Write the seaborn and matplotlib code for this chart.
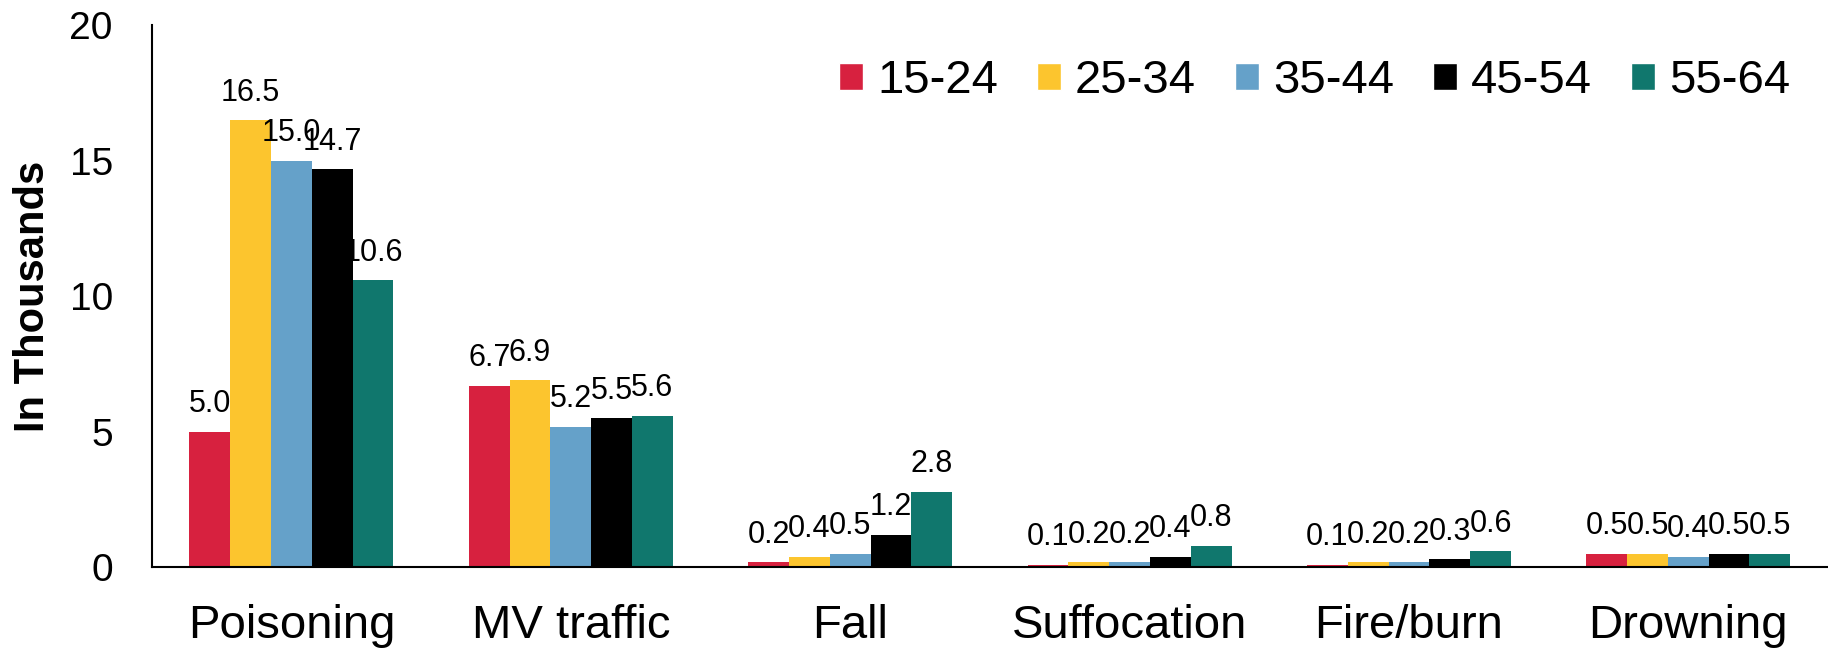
import matplotlib
matplotlib.use("Agg")
import matplotlib.pyplot as plt
import seaborn as sns
import pandas as pd
from matplotlib.patches import Patch

categories = ["Poisoning", "MV traffic", "Fall", "Suffocation", "Fire/burn", "Drowning"]
age_groups = ["15-24", "25-34", "35-44", "45-54", "55-64"]
ages_15_24 = [5.0, 6.7, 0.2, 0.1, 0.1, 0.5]
ages_25_34 = [16.5, 6.9, 0.4, 0.2, 0.2, 0.5]
ages_35_44 = [15.0, 5.2, 0.5, 0.2, 0.2, 0.4]
ages_45_54 = [14.7, 5.5, 1.2, 0.4, 0.3, 0.5]
ages_55_64 = [10.6, 5.6, 2.8, 0.8, 0.6, 0.5]
y_ticks = [0, 5, 10, 15, 20]
colors = ["#D7213F", "#FCC52E", "#65A1C9", "#000000", "#10776D"]

series = [ages_15_24, ages_25_34, ages_35_44, ages_45_54, ages_55_64]
rows = []
for age, vals in zip(age_groups, series):
    for cat, v in zip(categories, vals):
        rows.append({"Cause": cat, "Age": age, "Value": v})
df = pd.DataFrame(rows)

sns.set_theme(style="white")
plt.rcParams["font.family"] = ["Liberation Sans", "DejaVu Sans"]
plt.rcParams["text.color"] = "black"
plt.rcParams["axes.labelcolor"] = "black"
plt.rcParams["xtick.color"] = "black"
plt.rcParams["ytick.color"] = "black"

fig = plt.figure(figsize=(18.28, 6.5), dpi=100)
ax = fig.add_axes([0.083, 0.127, 0.917, 0.834])

sns.barplot(data=df, x="Cause", y="Value", hue="Age", order=categories,
            hue_order=age_groups, palette=colors, width=0.73, saturation=1,
            errorbar=None, ax=ax, legend=False, linewidth=0)

for container in ax.containers:
    ax.bar_label(container, fmt="%.1f", padding=9, fontsize=22, color="black")

ax.set_ylim(0, 20)
ax.set_xlim(-0.5, 5.5)
ax.set_yticks(y_ticks)
ax.set_yticklabels([str(t) for t in y_ticks])
ax.tick_params(axis="y", labelsize=28, pad=28, length=0, labelcolor="black")
ax.tick_params(axis="x", labelsize=34, pad=26, length=0, labelcolor="black")
ax.set_xlabel("")
ax.set_ylabel("In Thousands", fontsize=30, fontweight="bold", labelpad=12,
              color="black")

for side in ["top", "right"]:
    ax.spines[side].set_visible(False)
for side in ["left", "bottom"]:
    ax.spines[side].set_color("black")
    ax.spines[side].set_linewidth(1.5)

handles = [Patch(facecolor=c, label=a) for c, a in zip(colors, age_groups)]
fig.legend(handles=handles, ncol=5, frameon=False, loc="center right",
           bbox_to_anchor=(1790 / 1828, 1 - 81 / 650),
           bbox_transform=fig.transFigure, fontsize=34,
           handlelength=0.51, handleheight=0.51, handletextpad=0.3,
           columnspacing=0.82, borderpad=0, borderaxespad=0,
           labelcolor="black")

fig.savefig("out.png", dpi=100)
